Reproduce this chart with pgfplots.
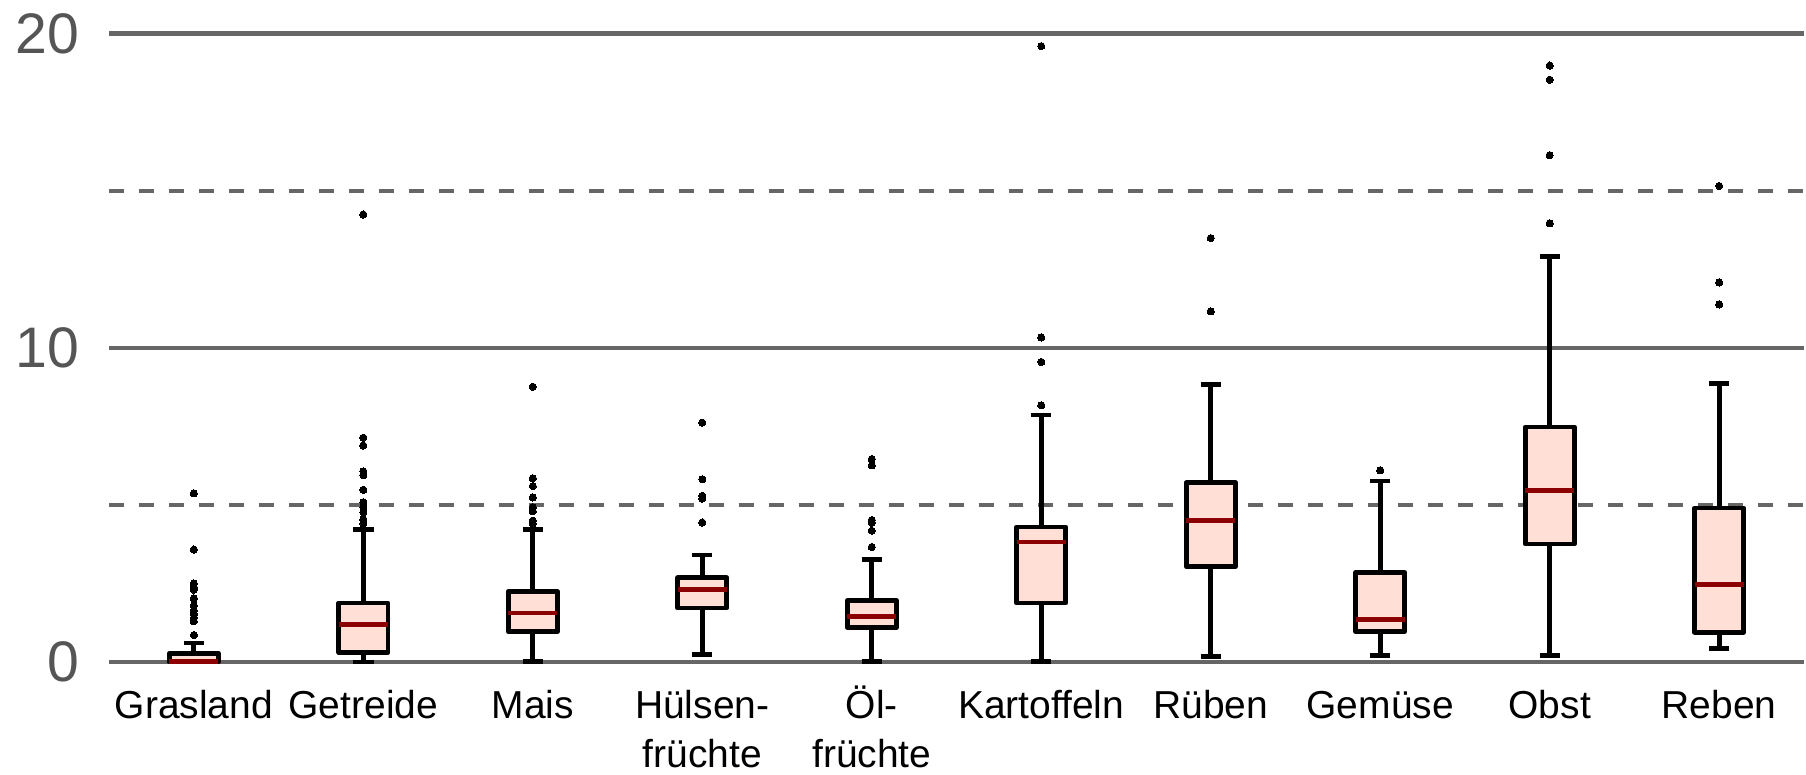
\documentclass[border=0pt]{standalone}
\usepackage{fontspec}
\setmainfont{Liberation Sans}
\usepackage{pgfplots}
\pgfplotsset{compat=1.18}
\usepgfplotslibrary{statistics}

\definecolor{boxfill}{RGB}{255,223,214}
\definecolor{medred}{RGB}{139,0,0}
\definecolor{gridgray}{RGB}{102,102,102}
\definecolor{labgray}{RGB}{85,85,85}

\newcommand{\Z}{\rule{0pt}{10pt}}

\pgfplotsset{
    bx/.style={
        black, line width=1.2pt, line join=round,
        mark=*, mark size=0.9pt, mark options={fill=black, draw=black, line width=0pt},
        boxplot/box extend=0.29,
        boxplot/whisker extend=0.12,
        boxplot/every box/.style={draw=black, fill=boxfill, line width=1.2pt, line join=round},
        boxplot/every median/.style={draw=medred, line width=1.2pt},
        boxplot/every whisker/.style={draw=black, line width=1.2pt},
    }
}

\begin{document}
\begin{tikzpicture}
\begin{axis}[
    scale only axis,
    width=424pt, height=157.25pt,
    xmin=-0.5, xmax=9.5,
    ymin=0, ymax=20,
    clip=false,
    axis line style={draw=none},
    tick style={draw=none},
    xtick={0,...,9},
    xticklabels={\Z Grasland,\Z Getreide,\Z Mais,{\Z Hülsen-\\früchte},{\Z Öl-\\früchte},\Z Kartoffeln,\Z Rüben,\Z Gemüse,\Z Obst,\Z Reben},
    xticklabel style={font=\fontsize{9.75}{12.25}\selectfont, align=center, anchor=north, inner ysep=1.5pt, yshift=-2.5pt},
    ytick={0,10,20},
    yticklabel style={font=\fontsize{14.3}{15}\selectfont, text=labgray, xshift=-4pt},
    /pgf/number format/assume math mode=true,
    ymajorgrids,
    major grid style={draw=gridgray, line width=1.05pt},
    extra y ticks={5,15},
    extra y tick labels={},
    extra y tick style={grid=major, major grid style={draw=gridgray, line width=1.05pt, dash pattern=on 3.75pt off 3.75pt}},
    boxplot/draw direction=y,
]
% Grasland
\addplot[bx, boxplot prepared={draw position=0, lower whisker=0, lower quartile=0, median=0.03, upper quartile=0.28, upper whisker=0.61}]
coordinates {(0,5.37) (0,3.58) (0,2.5) (0,2.38) (0,2.3) (0,2.03) (0,1.8) (0,1.64) (0,1.53) (0,1.41) (0,1.3) (0,0.86)};
% Getreide
\addplot[bx, boxplot prepared={draw position=1, lower whisker=0, lower quartile=0.31, median=1.2, upper quartile=1.88, upper whisker=4.23}]
coordinates {(0,14.24) (0,7.14) (0,6.89) (0,6.07) (0,5.95) (0,5.48) (0,5.09) (0,4.93) (0,4.77) (0,4.54) (0,4.41)};
% Mais
\addplot[bx, boxplot prepared={draw position=2, lower whisker=0.03, lower quartile=0.97, median=1.56, upper quartile=2.25, upper whisker=4.23}]
coordinates {(0,8.76) (0,5.85) (0,5.6) (0,5.24) (0,4.93) (0,4.8) (0,4.5) (0,4.41)};
% Huelsenfruechte
\addplot[bx, boxplot prepared={draw position=3, lower whisker=0.23, lower quartile=1.72, median=2.3, upper quartile=2.68, upper whisker=3.41}]
coordinates {(0,7.62) (0,5.82) (0,5.29) (0,5.2) (0,4.44)};
% Oelfruechte
\addplot[bx, boxplot prepared={draw position=4, lower whisker=0.03, lower quartile=1.1, median=1.46, upper quartile=1.96, upper whisker=3.26}]
coordinates {(0,6.46) (0,6.26) (0,4.52) (0,4.43) (0,4.18) (0,3.66)};
% Kartoffeln
\addplot[bx, boxplot prepared={draw position=5, lower whisker=0.03, lower quartile=1.88, median=3.82, upper quartile=4.3, upper whisker=7.86}]
coordinates {(0,19.6) (0,10.33) (0,9.55) (0,8.17)};
% Rueben
\addplot[bx, boxplot prepared={draw position=6, lower whisker=0.19, lower quartile=3.04, median=4.51, upper quartile=5.71, upper whisker=8.84}]
coordinates {(0,13.49) (0,11.16)};
% Gemuese
\addplot[bx, boxplot prepared={draw position=7, lower whisker=0.22, lower quartile=0.97, median=1.36, upper quartile=2.85, upper whisker=5.76}]
coordinates {(0,6.1)};
% Obst
\addplot[bx, boxplot prepared={draw position=8, lower whisker=0.22, lower quartile=3.76, median=5.45, upper quartile=7.48, upper whisker=12.91}]
coordinates {(0,18.98) (0,18.53) (0,16.13) (0,13.96)};
% Reben
\addplot[bx, boxplot prepared={draw position=9, lower whisker=0.44, lower quartile=0.95, median=2.47, upper quartile=4.9, upper whisker=8.87}]
coordinates {(0,15.15) (0,12.08) (0,11.38)};
\end{axis}
\path (current axis.south west) ++(-27.3pt,0);
\end{tikzpicture}
\end{document}
